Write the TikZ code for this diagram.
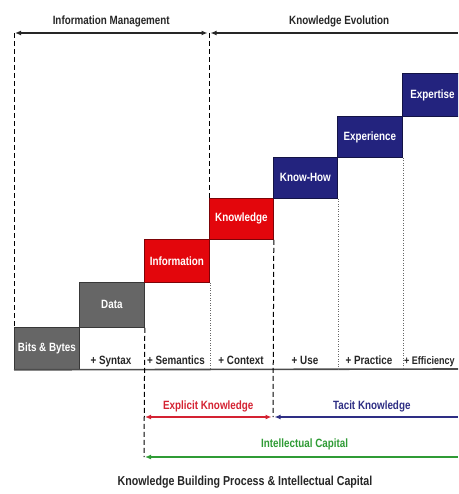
\documentclass[tikz,border=0pt]{standalone}
\usepackage{fontspec}
\newfontfamily\narrowfont[FakeStretch=0.82]{Liberation Sans}
\usepackage{tikz}
\usetikzlibrary{
    arrows.meta,
    positioning
}

\definecolor{bitgray}{HTML}{666666}
\definecolor{stepred}{HTML}{E3060C}
\definecolor{stepnavy}{HTML}{23237E}
\definecolor{explred}{HTML}{D42232}
\definecolor{tacitblue}{HTML}{2E2E84}
\definecolor{capgreen}{HTML}{2F9B35}

\tikzset{
    every node/.style = {font=\narrowfont\bfseries\fontsize{12}{14}\selectfont},
    stepbox/.style    = {draw=#1!55!black, fill=#1, text=white, line width=0.8pt,
                         anchor=north west, inner sep=0pt},
    steplabel/.style  = {anchor=base, text=black!85},
    span/.style       = {line width=1.8pt, {Latex[length=6pt,width=5pt]}-{Latex[length=6pt,width=5pt]}},
    halfspan/.style   = {line width=1.8pt, {Latex[length=6pt,width=5pt]}-},
    divider/.style    = {line width=1pt, dash pattern=on 5pt off 3pt},
    thindiv/.style    = {line width=0.5pt, black!60, dotted}
}

\begin{document}
\begin{tikzpicture}[x=1pt, y=-1pt]
    \useasboundingbox (0,0) rectangle (458,494);
    \clip (0,0) rectangle (458,494);

    % the staircase
    \node[stepbox=bitgray,  minimum width=65pt, minimum height=42pt] (bits)   at (14,327)  {Bits \& Bytes};
    \node[stepbox=bitgray,  minimum width=65pt, minimum height=45pt] (data)   at (79,282)  {Data};
    \node[stepbox=stepred,  minimum width=65pt, minimum height=43pt] (info)   at (144,239) {Information};
    \node[stepbox=stepred,  minimum width=64pt, minimum height=41pt] (know)   at (209,198) {Knowledge};
    \node[stepbox=stepnavy, minimum width=64pt, minimum height=41pt] (howto)  at (273,157) {Know-How};
    \node[stepbox=stepnavy, minimum width=65pt, minimum height=41pt] (exper)  at (337,116) {Experience};
    \node[stepbox=stepnavy, minimum width=60pt, minimum height=43pt] (expert) at (402,73)  {Expertise};

    \node[steplabel] (syn) at (111,364) {+ Syntax};
    \node[steplabel] (sem) at (176,364) {+ Semantics};
    \node[steplabel] (ctx) at (241,364) {+ Context};
    \node[steplabel] (use) at (305,364) {+ Use};
    \node[steplabel] (prc) at (369,364) {+ Practice};
    \node[steplabel, anchor=base west, inner sep=0pt,
          font=\narrowfont\bfseries\fontsize{11}{13}\selectfont] (eff) at (404,364) {+ Efficiency};

    % end points of the span arrows
    \coordinate (im-l)  at (14,33);
    \coordinate (im-r)  at (209,33);
    \coordinate (ke-r)  at (458,33);
    \coordinate (base-r) at (458,369);
    \coordinate (ek-l)  at (144,417);
    \coordinate (ek-r)  at (273,417);
    \coordinate (tk-r)  at (458,417);
    \coordinate (ic-l)  at (144,457);
    \coordinate (ic-r)  at (458,457);

    \draw[line width=1.6pt, black!70] (bits.south west) -- (base-r);

    \draw[divider] (im-l) -- (bits.north west);
    \draw[divider] (im-r) -- (know.north west);
    \draw[divider] (data.south east) -- (ic-l);
    \draw[divider] (know.south east) -- (ek-r);
    \draw[thindiv] (info.south east)  -- (info.south east |- base-r);
    \draw[thindiv] (howto.south east) -- (howto.south east |- base-r);
    \draw[thindiv] (exper.south east) -- (exper.south east |- base-r);

    % spans above
    \draw[span, black!85]     ([xshift=1pt]im-l) -- node[above=2pt, text=black!85] (imlab) {Information Management} ([xshift=-1.5pt]im-r);
    \draw[halfspan, black!85] ([xshift=1.5pt]im-r) -- node[above=2pt, text=black!85, pos=0.52] (kelab) {Knowledge Evolution} (ke-r);

    % spans below
    \draw[span, explred]      ([xshift=1pt]ek-l) -- node[above=1pt, text=explred] (eklab) {Explicit Knowledge} ([xshift=-1.5pt]ek-r);
    \draw[halfspan, tacitblue] ([xshift=1.5pt]ek-r) -- node[above=1pt, text=tacitblue, pos=0.53] (tklab) {Tacit Knowledge} (tk-r);
    \draw[halfspan, capgreen] ([xshift=1pt]ic-l) -- node[above=3pt, text=capgreen, pos=0.51] (iclab) {Intellectual Capital} (ic-r);

    \node[text=black!85, font=\narrowfont\bfseries\fontsize{13}{15}\selectfont] (title) at (245,482) {Knowledge Building Process \& Intellectual Capital};
\end{tikzpicture}
\end{document}
